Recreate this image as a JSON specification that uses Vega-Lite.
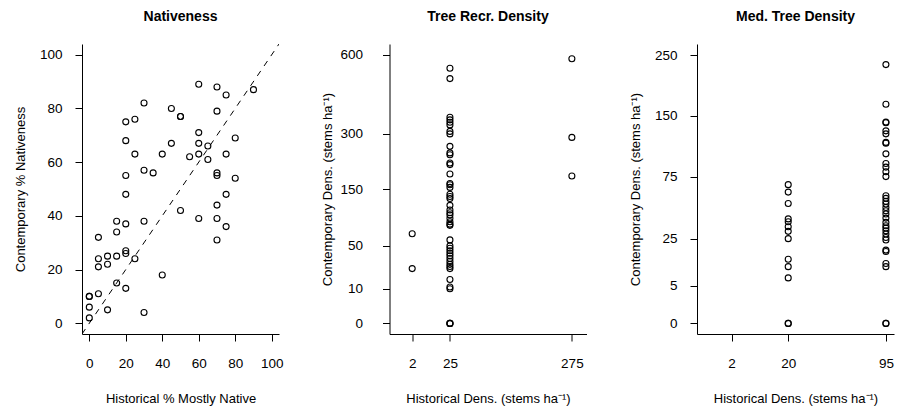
{
  "$schema": "https://vega.github.io/schema/vega-lite/v6.json",
  "background": "white",
  "padding": {"left": 14, "top": 10, "right": 5, "bottom": 5},
  "spacing": 110.5,
  "bounds": "flush",
  "config": {
    "view": {"stroke": null},
    "font": "Liberation Sans",
    "axis": {
      "grid": false, "domainColor": "black", "tickColor": "black", "labelColor": "black", "titleColor": "black",
      "domainWidth": 1, "tickWidth": 1, "tickSize": 7, "labelFont": "Liberation Sans", "titleFont": "Liberation Sans",
      "labelFontSize": 13.5, "titleFontSize": 13, "titleFontWeight": "normal", "labelFlush": false, "labelOverlap": false
    },
    "axisX": {"labelPadding": 15, "titlePadding": 23},
    "axisY": {"labelPadding": 13, "titlePadding": 13, "labelAngle": 0, "minExtent": 42, "maxExtent": 42},
    "title": {"font": "Liberation Sans", "fontSize": 14, "fontWeight": "bold", "color": "black", "anchor": "middle", "offset": 20}
  },
  "datasets": {
    "nat": [
      {"h": 60, "c": 89}, {"h": 70, "c": 88}, {"h": 75, "c": 85}, {"h": 90, "c": 87}, {"h": 30, "c": 82},
      {"h": 45, "c": 80}, {"h": 50, "c": 77}, {"h": 50, "c": 77}, {"h": 70, "c": 79}, {"h": 20, "c": 75},
      {"h": 25, "c": 76}, {"h": 60, "c": 71}, {"h": 80, "c": 69}, {"h": 20, "c": 68}, {"h": 45, "c": 67},
      {"h": 60, "c": 67}, {"h": 65, "c": 66}, {"h": 25, "c": 63}, {"h": 40, "c": 63}, {"h": 60, "c": 63},
      {"h": 75, "c": 63}, {"h": 55, "c": 62}, {"h": 65, "c": 61}, {"h": 30, "c": 57}, {"h": 35, "c": 56},
      {"h": 70, "c": 56}, {"h": 70, "c": 55}, {"h": 20, "c": 55}, {"h": 80, "c": 54}, {"h": 20, "c": 48},
      {"h": 75, "c": 48}, {"h": 50, "c": 42}, {"h": 70, "c": 44}, {"h": 60, "c": 39}, {"h": 70, "c": 39},
      {"h": 75, "c": 36}, {"h": 70, "c": 31}, {"h": 15, "c": 38}, {"h": 20, "c": 37}, {"h": 30, "c": 38},
      {"h": 15, "c": 34}, {"h": 5, "c": 32}, {"h": 20, "c": 27}, {"h": 20, "c": 26}, {"h": 25, "c": 24},
      {"h": 5, "c": 24}, {"h": 10, "c": 25}, {"h": 15, "c": 25}, {"h": 5, "c": 21}, {"h": 10, "c": 22},
      {"h": 40, "c": 18}, {"h": 15, "c": 15}, {"h": 20, "c": 13}, {"h": 0, "c": 10}, {"h": 0, "c": 10},
      {"h": 5, "c": 11}, {"h": 0, "c": 6}, {"h": 10, "c": 5}, {"h": 30, "c": 4}, {"h": 0, "c": 2}
    ],
    "oneToOne": [{"h": -4, "c": -4}, {"h": 104, "c": 104}],
    "recr": [
      {"h": 2, "c": 67}, {"h": 2, "c": 25},
      {"h": 275, "c": 583}, {"h": 275, "c": 288}, {"h": 275, "c": 181},
      {"h": 25, "c": 542}, {"h": 25, "c": 499}, {"h": 25, "c": 354}, {"h": 25, "c": 345}, {"h": 25, "c": 337},
      {"h": 25, "c": 328}, {"h": 25, "c": 307}, {"h": 25, "c": 299}, {"h": 25, "c": 261}, {"h": 25, "c": 242},
      {"h": 25, "c": 237}, {"h": 25, "c": 214}, {"h": 25, "c": 210}, {"h": 25, "c": 186}, {"h": 25, "c": 163},
      {"h": 25, "c": 160}, {"h": 25, "c": 154}, {"h": 25, "c": 139}, {"h": 25, "c": 134}, {"h": 25, "c": 130},
      {"h": 25, "c": 116}, {"h": 25, "c": 107}, {"h": 25, "c": 102}, {"h": 25, "c": 98}, {"h": 25, "c": 92},
      {"h": 25, "c": 86}, {"h": 25, "c": 82}, {"h": 25, "c": 80}, {"h": 25, "c": 58}, {"h": 25, "c": 50},
      {"h": 25, "c": 47}, {"h": 25, "c": 44}, {"h": 25, "c": 41}, {"h": 25, "c": 38}, {"h": 25, "c": 35},
      {"h": 25, "c": 32}, {"h": 25, "c": 29}, {"h": 25, "c": 27}, {"h": 25, "c": 25}, {"h": 25, "c": 16},
      {"h": 25, "c": 11}, {"h": 25, "c": 10}, {"h": 25, "c": 0}, {"h": 25, "c": 0}, {"h": 25, "c": 0}
    ],
    "med": [
      {"h": 20, "c": 67}, {"h": 20, "c": 60}, {"h": 20, "c": 50}, {"h": 20, "c": 38}, {"h": 20, "c": 36},
      {"h": 20, "c": 32.5}, {"h": 20, "c": 29.5}, {"h": 20, "c": 25}, {"h": 20, "c": 14.3}, {"h": 20, "c": 11.2},
      {"h": 20, "c": 7.2}, {"h": 20, "c": 0}, {"h": 20, "c": 0},
      {"h": 95, "c": 233}, {"h": 95, "c": 167}, {"h": 95, "c": 141}, {"h": 95, "c": 140}, {"h": 95, "c": 129},
      {"h": 95, "c": 125}, {"h": 95, "c": 114}, {"h": 95, "c": 113}, {"h": 95, "c": 100}, {"h": 95, "c": 89},
      {"h": 95, "c": 85}, {"h": 95, "c": 80}, {"h": 95, "c": 75}, {"h": 95, "c": 56.7}, {"h": 95, "c": 54.4},
      {"h": 95, "c": 51.8}, {"h": 95, "c": 49.6}, {"h": 95, "c": 46.8}, {"h": 95, "c": 44.2}, {"h": 95, "c": 41.6},
      {"h": 95, "c": 38.6}, {"h": 95, "c": 35.5}, {"h": 95, "c": 33.2}, {"h": 95, "c": 31.6}, {"h": 95, "c": 29.9},
      {"h": 95, "c": 27.8}, {"h": 95, "c": 25.7}, {"h": 95, "c": 24.2}, {"h": 95, "c": 18.7}, {"h": 95, "c": 18},
      {"h": 95, "c": 12.5}, {"h": 95, "c": 11.2}, {"h": 95, "c": 0}, {"h": 95, "c": 0}
    ]
  },
  "hconcat": [
    {
      "title": "Nativeness",
      "width": 197, "height": 290,
      "encoding": {
        "x": {"field": "h", "type": "quantitative", "title": "Historical % Mostly Native",
              "scale": {"domain": [-4, 104], "nice": false, "zero": false},
              "axis": {"values": [0, 20, 40, 60, 80, 100], "labelOverlap": false}},
        "y": {"field": "c", "type": "quantitative", "title": "Contemporary % Nativeness",
              "scale": {"domain": [-4, 104], "nice": false, "zero": false},
              "axis": {"values": [0, 20, 40, 60, 80, 100], "labelOverlap": false}}
      },
      "layer": [
        {
          "data": {"name": "nat"},
          "mark": {"type": "point", "shape": "circle", "filled": false, "stroke": "black", "strokeWidth": 1.1, "size": 36, "opacity": 1}
        },
        {
          "data": {"name": "oneToOne"},
          "mark": {"type": "line", "color": "black", "strokeWidth": 1, "strokeDash": [6, 6], "clip": true}
        }
      ]
    },
    {
      "title": "Tree Recr. Density",
      "width": 197, "height": 290,
      "data": {"name": "recr"},
      "mark": {"type": "point", "shape": "circle", "filled": false, "stroke": "black", "strokeWidth": 1.1, "size": 36, "opacity": 1},
      "encoding": {
        "x": {"field": "h", "type": "quantitative", "title": "Historical Dens. (stems ha⁻¹)",
              "scale": {"type": "sqrt", "domain": [-0.55, 323], "nice": false, "zero": false},
              "axis": {"values": [2, 25, 275], "labelOverlap": false}},
        "y": {"field": "c", "type": "quantitative", "title": "Contemporary Dens. (stems ha⁻¹)",
              "scale": {"type": "sqrt", "domain": [-0.94, 650], "nice": false, "zero": false},
              "axis": {"values": [0, 10, 50, 150, 300, 600], "labelOverlap": false, "labelPadding": 20}}
      }
    },
    {
      "title": "Med. Tree Density",
      "width": 197, "height": 290,
      "data": {"name": "med"},
      "mark": {"type": "point", "shape": "circle", "filled": false, "stroke": "black", "strokeWidth": 1.1, "size": 36, "opacity": 1},
      "encoding": {
        "x": {"field": "h", "type": "quantitative", "title": "Historical Dens. (stems ha⁻¹)",
              "scale": {"type": "sqrt", "domain": [-0.205, 103.7], "nice": false, "zero": false},
              "axis": {"values": [2, 20, 95], "labelOverlap": false}},
        "y": {"field": "c", "type": "quantitative", "title": "Contemporary Dens. (stems ha⁻¹)",
              "scale": {"type": "sqrt", "domain": [-0.39, 271.6], "nice": false, "zero": false},
              "axis": {"values": [0, 5, 25, 75, 150, 250], "labelOverlap": false}}
      }
    }
  ]
}
